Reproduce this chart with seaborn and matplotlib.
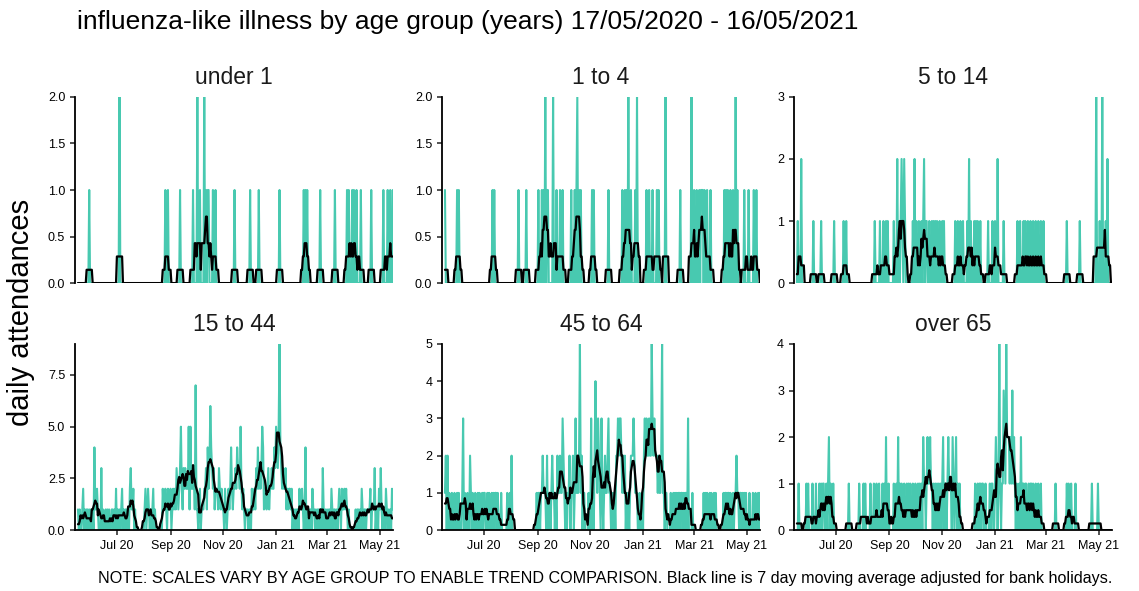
import numpy as np
import pandas as pd
import matplotlib
matplotlib.use("Agg")
import matplotlib.pyplot as plt
import matplotlib.dates as mdates
import seaborn as sns

# daily counts, 17/05/2020 .. 16/05/2021 (365 days, 4 weeks per row)
under_1 = [
    0,0,0,0,0,0,0, 0,0,0,0,0,0,1, 0,0,0,0,0,0,0, 0,0,0,0,0,0,0,
    0,0,0,0,0,0,0, 0,0,0,0,0,0,0, 0,0,0,0,0,0,2, 0,0,0,0,0,0,0,
    0,0,0,0,0,0,0, 0,0,0,0,0,0,0, 0,0,0,0,0,0,0, 0,0,0,0,0,0,0,
    0,0,0,0,0,0,0, 0,0,0,0,0,0,0, 0,0,0,1,0,0,1, 0,0,0,0,0,0,0,
    0,0,0,0,0,0,1, 0,0,0,0,0,0,0, 0,0,0,0,0,0,0, 1,0,0,0,0,2,0,
    0,1,0,0,0,0,2, 0,1,0,1,1,0,0, 0,0,1,0,0,1,0, 0,0,0,0,0,0,0,
    0,0,0,0,0,0,0, 0,0,0,0,0,0,1, 0,0,0,0,0,0,0, 0,0,0,0,0,0,0,
    0,0,0,1,0,0,0, 0,0,0,0,0,0,1, 0,0,0,0,0,0,0, 0,0,0,0,0,0,0,
    0,0,0,0,0,0,0, 0,0,1,0,0,0,0, 0,0,0,0,0,0,0, 0,0,0,0,0,0,0,
    0,0,0,0,0,0,0, 0,0,1,0,1,0,1, 0,0,0,0,0,0,0, 0,0,0,0,0,0,0,
    1,0,0,0,0,0,0, 0,0,0,0,0,0,0, 0,0,0,1,0,0,0, 0,0,0,0,0,0,0,
    0,0,0,1,0,1,0, 0,0,1,0,1,0,0, 1,0,0,0,0,1,0, 0,0,0,0,0,0,0,
    0,0,0,1,0,0,0, 0,0,0,0,0,0,0, 0,0,0,1,0,0,0, 0,1,0,0,1,0,0,
    1,
]
age_1_4 = [
    1,0,0,0,0,0,0, 0,0,0,0,0,0,0, 1,0,1,0,0,0,0, 0,0,0,0,0,0,0,
    0,0,0,0,0,0,0, 0,0,0,0,0,0,0, 0,0,0,0,0,0,0, 0,0,0,0,0,0,1,
    0,1,0,0,0,0,0, 0,0,0,0,0,0,0, 0,0,0,0,0,0,0, 0,0,0,0,0,0,0,
    0,1,0,0,0,0,0, 0,0,0,1,0,0,0, 0,0,0,0,0,0,0, 0,0,0,1,0,0,0,
    1,0,1,0,2,0,1, 1,0,0,0,0,0,2, 0,0,0,1,0,0,0, 1,0,0,1,0,0,0,
    0,0,0,0,0,0,1, 0,0,0,1,0,1,2, 0,1,0,1,0,0,0, 0,0,0,0,0,0,0,
    0,0,1,0,1,0,0, 0,0,0,0,0,0,0, 0,0,0,0,0,0,0, 1,0,0,0,0,0,0,
    0,0,0,0,0,0,0, 0,0,1,0,0,1,0, 1,0,2,0,0,1,0, 0,0,0,1,0,2,0,
    0,0,0,0,0,0,0, 0,0,1,0,0,1,0, 0,0,1,0,0,0,0, 1,0,1,0,0,0,0,
    0,0,0,2,0,0,0, 0,0,0,0,0,0,0, 0,0,0,0,0,0,1, 0,0,0,0,0,0,0,
    0,0,0,0,0,2,0, 0,1,0,0,1,0,0, 1,0,1,1,1,0,1, 0,0,1,0,0,0,1,
    0,0,0,0,0,0,0, 0,0,0,0,0,0,0, 0,1,0,1,0,1,0, 0,1,0,0,1,0,0,
    2,0,1,0,0,0,0, 0,0,0,1,0,0,0, 0,1,0,0,0,0,0, 1,0,0,1,0,0,0,
    0,
]
age_5_14 = [
    0,1,0,0,0,2,0, 0,0,0,0,0,0,0, 0,0,0,0,0,1,0, 0,0,0,0,0,0,0,
    1,0,0,0,0,0,0, 0,0,0,0,0,0,0, 0,1,0,0,0,0,0, 0,0,0,0,0,1,0,
    0,1,0,0,0,0,0, 0,0,0,0,0,0,0, 0,0,0,0,0,0,0, 0,0,0,0,0,0,0,
    0,0,0,0,0,0,1, 0,0,0,0,0,1,0, 0,0,1,0,0,1,0, 1,0,0,0,0,0,0,
    1,0,0,0,2,0,1, 0,1,2,1,0,2,1, 0,0,0,0,0,0,0, 0,1,0,2,0,1,0,
    0,1,0,0,1,0,1, 2,0,1,1,0,0,1, 0,0,1,0,1,0,1, 0,1,0,0,1,0,0,
    1,0,1,0,0,0,0, 0,0,0,0,0,0,0, 0,1,0,0,1,0,0, 1,0,0,1,0,0,0,
    0,1,0,2,0,1,0, 0,0,1,0,1,0,1, 0,0,1,0,0,0,0, 0,0,0,0,1,0,0,
    0,0,1,0,0,1,0, 0,2,0,0,0,0,0, 0,1,0,0,0,0,0, 0,0,0,0,0,0,0,
    0,0,0,1,0,0,1, 0,0,0,1,0,1,0, 0,1,0,0,1,0,0, 1,0,0,1,0,0,1,
    0,0,1,0,0,1,0, 0,0,0,0,0,0,0, 0,0,0,0,0,0,0, 0,0,0,0,0,0,0,
    0,0,0,0,1,0,0, 0,0,0,0,0,0,0, 0,0,0,0,0,1,0, 0,0,0,0,0,0,0,
    0,0,0,0,0,0,0, 0,0,0,3,0,0,0, 1,0,0,3,0,0,0, 1,0,2,0,0,0,0,
    0,
]
age_15_44 = [
    1,0,1,0,0,1,2, 0,1,0,1,1,0,1, 0,1,0,1,0,4,1, 1,2,1,0,0,0,3,
    0,1,0,0,1,0,1, 0,1,0,0,1,1,0, 1,0,2,0,1,0,1, 0,1,2,0,1,0,1,
    1,0,1,0,2,3,1, 1,2,0,1,0,0,0, 0,0,0,0,0,0,0, 1,2,0,1,2,1,0,
    1,0,1,2,0,1,0, 0,0,0,0,0,0,0, 2,1,1,2,1,0,2, 1,1,2,0,1,2,1,
    2,1,3,2,1,2,3, 5,2,1,3,2,3,2, 2,2,5,1,5,2,2, 2,3,1,7,1,1,0,
    1,2,0,1,1,1,2, 2,3,1,4,2,3,6, 4,3,2,3,1,2,2, 2,1,3,2,1,2,1,
    1,0,2,1,0,1,2, 1,2,4,2,1,2,2, 3,2,4,3,3,2,5, 2,1,2,1,0,1,1,
    1,0,1,1,0,2,1, 1,2,1,3,2,4,2, 3,2,3,5,4,1,2, 2,1,2,3,1,2,2,
    3,2,2,4,3,5,4, 3,5,9,4,3,2,3, 2,2,3,1,2,1,2, 2,1,2,0,1,0,1,
    0,1,1,0,2,1,1, 2,1,0,1,4,0,1, 1,0,1,1,0,2,1, 1,0,1,0,1,1,0,
    1,1,0,3,1,0,1, 0,1,0,1,1,0,2, 1,0,1,1,0,1,0, 1,2,1,0,2,1,1,
    2,1,2,1,0,1,0, 0,0,0,0,0,0,1, 0,1,1,0,1,0,2, 1,0,1,1,0,1,1,
    1,1,2,0,1,1,1, 3,0,1,1,0,2,1, 3,1,0,1,1,0,2, 1,0,1,0,1,0,2,
    1,
]
age_45_64 = [
    1,2,0,2,0,1,0, 0,1,0,0,1,0,0, 1,0,1,0,0,0,1, 3,0,1,0,0,1,0,
    0,2,1,0,1,0,0, 1,0,0,1,0,1,0, 0,1,0,1,1,0,0, 1,0,1,0,0,1,0,
    1,0,1,1,0,1,0, 0,0,1,0,0,0,0, 0,0,1,0,0,1,0, 2,0,0,0,0,0,0,
    0,0,0,0,0,0,0, 0,0,0,0,0,0,0, 0,0,0,0,0,0,0, 0,1,0,1,1,0,1,
    1,2,1,1,1,0,2, 0,1,1,0,1,2,1, 1,0,1,0,2,1,1, 2,1,1,3,2,1,0,
    1,0,1,1,2,0,1, 1,2,0,1,3,1,1, 1,2,5,1,2,0,1, 1,0,0,0,0,1,0,
    0,3,0,1,0,2,4, 2,1,3,2,1,0,3, 1,0,1,2,1,1,2, 3,1,1,0,1,0,1,
    1,0,2,2,3,2,3, 3,2,1,2,1,2,0, 1,0,1,0,1,2,2, 2,3,2,1,1,1,0,
    0,1,0,0,1,0,2, 3,2,3,2,2,3,2, 2,5,3,2,3,2,2, 2,1,2,1,1,2,5,
    1,1,0,1,1,0,0, 0,0,1,0,0,1,0, 1,0,1,0,1,1,0, 1,1,0,1,0,1,1,
    0,3,0,0,0,0,1, 0,0,0,0,0,0,0, 0,0,0,0,0,1,0, 1,0,1,0,0,1,0,
    1,0,0,1,0,1,0, 0,0,0,0,0,0,0, 1,0,1,1,0,1,1, 0,1,0,0,1,0,1,
    1,2,1,1,0,1,1, 0,1,0,1,0,1,0, 0,0,1,0,0,0,1, 0,0,1,0,0,1,0,
    1,
]
over_65 = [
    0,0,1,0,0,0,0, 0,0,0,0,1,0,1, 0,0,0,0,1,0,0, 0,1,0,0,0,1,0,
    1,0,1,1,0,0,1, 0,1,2,0,1,0,0, 1,0,0,0,0,0,0, 0,0,0,0,0,0,0,
    0,0,0,0,1,0,0, 0,0,0,0,0,0,0, 0,0,1,0,0,0,0, 1,0,1,0,0,0,0,
    0,1,0,0,0,1,0, 0,1,0,0,1,0,0, 0,1,0,1,0,2,0, 0,1,0,0,0,0,0,
    1,0,0,1,0,2,0, 1,0,1,0,0,1,0, 0,1,0,1,0,1,0, 0,1,0,0,1,0,0,
    1,0,1,0,1,0,2, 1,1,0,1,2,1,1, 2,1,1,0,1,0,1, 0,1,0,1,0,1,0,
    1,2,0,1,1,0,1, 2,1,1,1,0,2,1, 0,1,2,0,1,0,1, 0,0,0,0,0,0,0,
    0,0,0,0,0,0,0, 0,0,0,1,0,0,1, 0,1,1,0,1,1,0, 0,1,0,0,0,0,1,
    0,1,1,0,0,1,2, 1,0,1,4,1,0,1, 1,3,2,1,4,2,2, 2,1,2,1,3,1,2,
    1,0,1,0,0,1,0, 2,0,1,1,0,1,1, 0,0,1,0,1,1,0, 1,0,0,1,0,0,1,
    0,0,1,0,0,0,0, 0,0,0,0,0,0,0, 0,0,0,0,0,1,0, 0,0,0,0,0,0,0,
    0,0,0,0,1,0,1, 0,0,1,0,0,0,0, 1,0,0,0,0,0,0, 0,0,0,0,0,0,0,
    0,0,0,0,0,1,0, 0,0,0,0,0,1,0, 0,0,0,0,0,0,0, 0,0,0,0,0,0,0,
    0,
]

groups = ["under 1", "1 to 4", "5 to 14", "15 to 44", "45 to 64", "over 65"]
series = [under_1, age_1_4, age_5_14, age_15_44, age_45_64, over_65]
y_max = [2, 2, 3, 9, 5, 4]
y_ticks = [[0, 0.5, 1, 1.5, 2], [0, 0.5, 1, 1.5, 2], [0, 1, 2, 3],
           [0, 2.5, 5, 7.5], [0, 1, 2, 3, 4, 5], [0, 1, 2, 3, 4]]
y_fmt = ["%.1f", "%.1f", "%.0f", "%.1f", "%.0f", "%.0f"]

dates = pd.date_range("2020-05-17", "2021-05-16", freq="D")
TEAL = "#48C9B0"

sns.set_style("ticks")
plt.rcParams["font.family"] = ["Liberation Sans", "DejaVu Sans"]
plt.rcParams["text.color"] = "black"

fig = plt.figure(figsize=(11.39, 5.91), dpi=100)

col_x = [0.0658, 0.388, 0.697]
row_y = [0.521, 0.103]
w, h = 0.2795, 0.315

for i, (name, vals) in enumerate(zip(groups, series)):
    r, c = divmod(i, 3)
    ax = fig.add_axes([col_x[c], row_y[r], w, h])
    df = pd.DataFrame({"date": dates, "count": vals})
    # 7 day centred moving average
    df["ma"] = df["count"].rolling(7, center=True, min_periods=1).sum() / 7

    sns.lineplot(data=df, x="date", y="count", ax=ax, color=TEAL, lw=1.5)
    sns.lineplot(data=df, x="date", y="ma", ax=ax, color="black", lw=1.6)

    ax.set_xlim(dates[0] - pd.Timedelta(days=3.5), dates[-1] + pd.Timedelta(days=0.5))
    ax.set_ylim(0, y_max[i])
    ax.set_yticks(y_ticks[i])
    ax.yaxis.set_major_formatter(matplotlib.ticker.FormatStrFormatter(y_fmt[i]))
    ax.set_xlabel("")
    ax.set_ylabel("")
    ax.xaxis.set_major_locator(mdates.MonthLocator(bymonth=[1, 3, 5, 7, 9, 11]))
    ax.xaxis.set_major_formatter(mdates.DateFormatter("%b %y"))
    ax.tick_params(axis="both", labelsize=9, length=3.5, width=1.1, colors="#222222",
                   labelcolor="black")
    for s in ["top", "right"]:
        ax.spines[s].set_visible(False)
    ax.spines["left"].set_linewidth(1.3)
    ax.spines["left"].set_color("black")
    ax.spines["bottom"].set_linewidth(1.3)
    ax.spines["bottom"].set_color("black")
    if r == 0:
        ax.spines["bottom"].set_visible(False)
        ax.tick_params(axis="x", bottom=False, labelbottom=False)
    ax.set_title(name, fontsize=16.5, pad=9, color="#1a1a1a")

fig.text(0.0676, 0.951, "influenza-like illness by age group (years) 17/05/2020 - 16/05/2021",
         fontsize=19, ha="left", va="baseline")
fig.text(0.018, 0.472, "daily attendances", fontsize=21, rotation=90, ha="center", va="center")
fig.text(0.977, 0.021,
         "NOTE: SCALES VARY BY AGE GROUP TO ENABLE TREND COMPARISON. "
         "Black line is 7 day moving average adjusted for bank holidays.",
         fontsize=11.6, ha="right", va="center")

fig.savefig("out.png", dpi=100)
